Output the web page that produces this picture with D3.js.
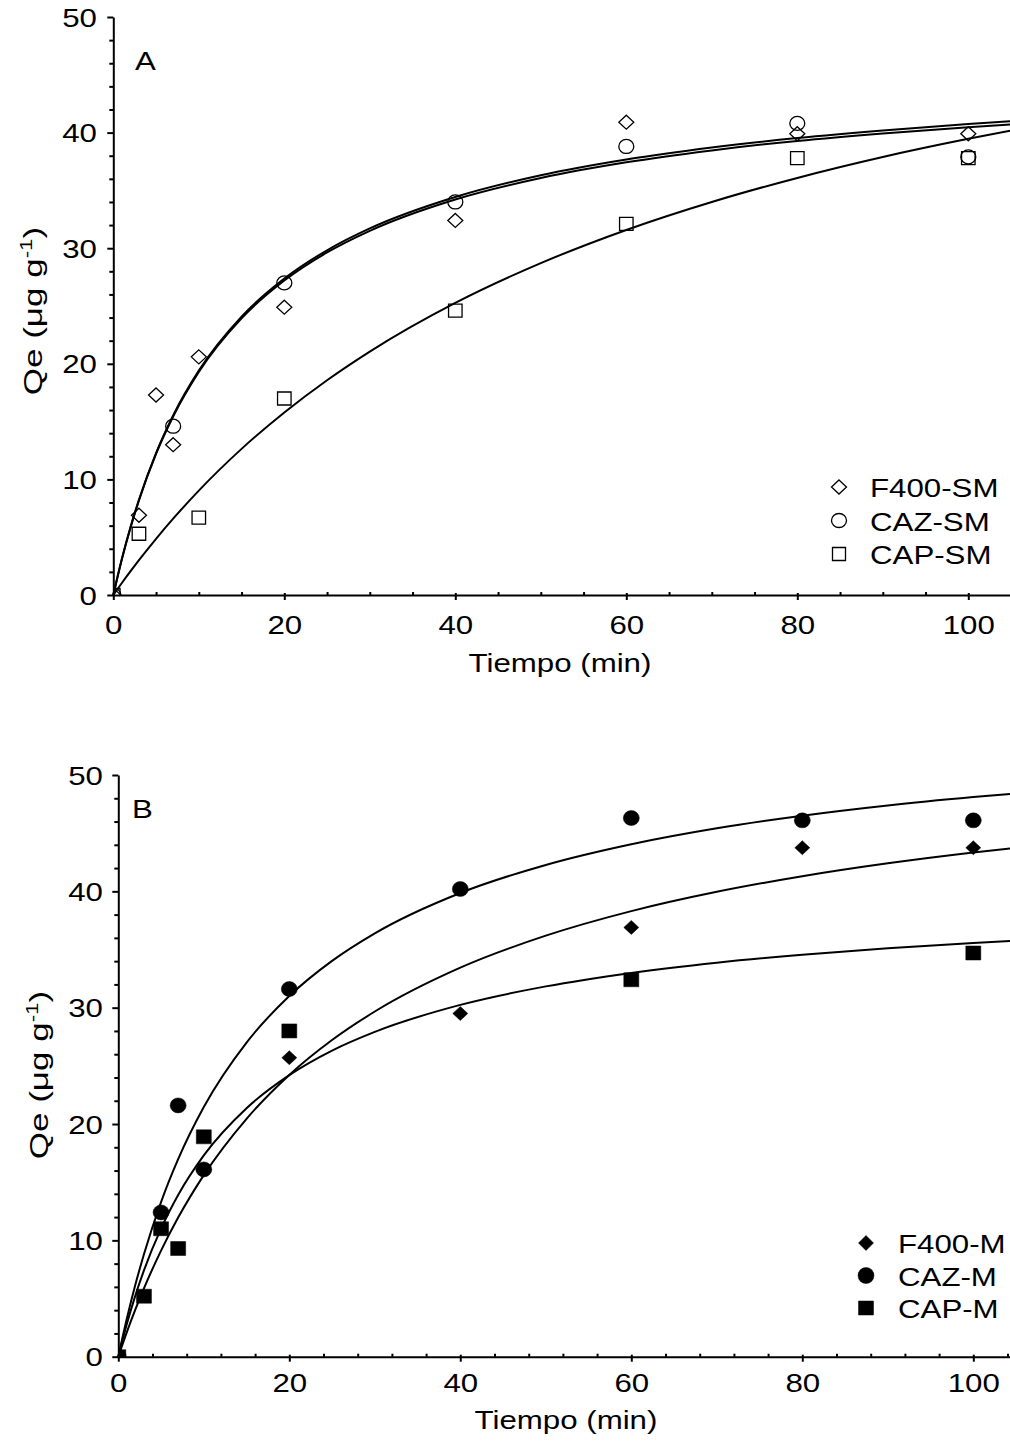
<!DOCTYPE html>
<html><head><meta charset="utf-8">
<script src="https://cdn.jsdelivr.net/npm/d3@7"></script>
<style>body{margin:0;background:#fff} svg{display:block}</style>
</head><body>
<svg id="chart" width="1010" height="1447"></svg>
<script>
// ---------- DATA ----------
// Panel A: sin modificar (SM)
const tiempoF400SM = [0, 3, 5, 7, 10, 20, 40, 60, 80, 100];
const qeF400SM     = [0, 6.9, 17.3, 13.0, 20.6, 24.9, 32.4, 40.9, 39.9, 39.9];
const tiempoCAZSM  = [0, 7, 20, 40, 60, 80, 100];
const qeCAZSM      = [0, 14.6, 27.0, 34.0, 38.8, 40.8, 37.9];
const tiempoCAPSM  = [0, 3, 10, 20, 40, 60, 80, 100];
const qeCAPSM      = [0, 5.3, 6.7, 17.0, 24.6, 32.1, 37.8, 37.8];

// Panel B: modificados (M)
const tiempoF400M  = [0, 10, 20, 40, 60, 80, 100];
const qeF400M      = [0, 16.1, 25.7, 29.5, 36.9, 43.75, 43.75];
const tiempoCAZM   = [0, 5, 7, 10, 20, 40, 60, 80, 100];
const qeCAZM       = [0, 12.4, 21.6, 16.1, 31.6, 40.2, 46.3, 46.1, 46.1];
const tiempoCAPM   = [0, 3, 5, 7, 10, 20, 60, 100];
const qeCAPM       = [0, 5.2, 11.0, 9.3, 18.9, 28.0, 32.4, 34.7];

// Fitted curves
const fitTiempo   = [0, 1, 2, 3, 5, 7, 10, 15, 20, 25, 30, 40, 50, 60, 70, 80, 90, 100, 105];
const fitF400SM   = [0, 3.11, 5.84, 8.24, 12.28, 15.54, 19.41, 24.08, 27.37, 29.82, 31.71, 34.43, 36.31, 37.67, 38.71, 39.53, 40.19, 40.74, 40.98];
const fitCAZSM    = [0, 3.09, 5.80, 8.18, 12.20, 15.44, 19.29, 23.93, 27.20, 29.63, 31.50, 34.21, 36.07, 37.43, 38.46, 39.28, 39.93, 40.47, 40.71];
const fitCAPSM    = [0, 1.04, 2.04, 3.01, 4.86, 6.60, 9.03, 12.64, 15.79, 18.58, 21.06, 25.27, 28.71, 31.58, 34.00, 36.08, 37.89, 39.46, 40.18];
const fitCAZM     = [0, 3.28, 6.20, 8.81, 13.29, 16.98, 21.46, 27.00, 31.00, 34.02, 36.39, 39.86, 42.27, 44.05, 45.42, 46.50, 47.38, 48.10, 48.42];
const fitF400M    = [0, 2.11, 4.06, 5.87, 9.12, 11.96, 15.61, 20.45, 24.22, 27.22, 29.67, 33.44, 36.19, 38.30, 39.96, 41.30, 42.41, 43.34, 43.75];
const fitCAPM     = [0, 2.82, 5.27, 7.42, 11.01, 13.90, 17.30, 21.36, 24.20, 26.31, 27.92, 30.24, 31.83, 32.99, 33.87, 34.56, 35.11, 35.57, 35.77];

// Axis ticks
const xMajorTicks = [0, 20, 40, 60, 80, 100];
const yMajorTicks = [0, 10, 20, 30, 40, 50];
const xMinorTicksA = [5, 10, 15, 25, 30, 35, 45, 50, 55, 65, 70, 75, 85, 90, 95, 105];
const xMinorTicksB = [4, 8, 12, 16, 24, 28, 32, 36, 44, 48, 52, 56, 64, 68, 72, 76, 84, 88, 92, 96, 104];
const yMinorTicks = [2, 4, 6, 8, 12, 14, 16, 18, 22, 24, 26, 28, 32, 34, 36, 38, 42, 44, 46, 48];

const legendA = ["F400-SM", "CAZ-SM", "CAP-SM"];
const legendB = ["F400-M", "CAZ-M", "CAP-M"];

// ---------- DRAWING ----------
const FONT = "'Liberation Sans', Arial, Helvetica, sans-serif";
const SX = 1.25;   // horizontal stretch of the original text
const svg = d3.select("#chart");
svg.append("rect").attr("width", 1010).attr("height", 1447).attr("fill", "#fff");

function markerPath(type, w, h) {
  if (type === "diamond") return `M0,${-h/2}L${w/2},0L0,${h/2}L${-w/2},0Z`;
  if (type === "square") return `M${-w/2},${-h/2}h${w}v${h}h${-w}Z`;
  return `M${-w/2},0a${w/2},${h/2} 0 1,0 ${w},0a${w/2},${h/2} 0 1,0 ${-w},0Z`;
}

function stretchedText(g, x, y, str, size, anchor) {
  return g.append("text")
    .attr("transform", `translate(${x},${y}) scale(${SX},1)`)
    .attr("text-anchor", anchor || "start")
    .attr("font-family", FONT).attr("font-size", size).attr("fill", "#000")
    .text(str);
}

function drawPanel(cfg) {
  const g = svg.append("g");
  const x = d3.scaleLinear().domain([0, 105]).range([cfg.x0, cfg.x0 + 105 * cfg.xs]);
  const y = d3.scaleLinear().domain([0, 50]).range([cfg.y0, cfg.yTop]);

  const clipId = "clip" + cfg.name;
  svg.append("clipPath").attr("id", clipId).append("rect")
    .attr("x", cfg.x0).attr("y", cfg.yTop - 10)
    .attr("width", 1010 - cfg.x0).attr("height", cfg.y0 - cfg.yTop + 10);

  // fitted curves
  const line = d3.line().x((d, i) => x(fitTiempo[i])).y(d => y(d)).curve(d3.curveMonotoneX);
  cfg.curves.forEach(c => {
    g.append("path").attr("d", line(c)).attr("fill", "none")
      .attr("stroke", "#000").attr("stroke-width", 2);
  });

  // markers
  const mg = g.append("g").attr("clip-path", `url(#${clipId})`);
  cfg.series.forEach(s => {
    mg.selectAll(null).data(s.t).enter().append("path")
      .attr("transform", (d, i) => `translate(${x(d)},${y(s.q[i])})`)
      .attr("d", markerPath(s.type, s.w, s.h))
      .attr("fill", cfg.filled ? "#000" : "none")
      .attr("stroke", "#000").attr("stroke-width", cfg.filled ? 0.5 : 1.3);
  });

  // x axis
  const xa = g.append("g").attr("transform", `translate(0,${cfg.y0})`)
    .call(d3.axisBottom(x).tickValues(xMajorTicks).tickSize(5).tickSizeOuter(0));
  xa.select(".domain").attr("stroke-width", 2).attr("d", `M${cfg.x0},0.5H1012`);
  xa.selectAll(".tick line").attr("y1", -2).attr("stroke-width", 2);
  xa.selectAll(".tick text").attr("y", null).attr("dy", null)
    .attr("transform", `translate(0,${cfg.xLabelDy}) scale(${SX},1)`)
    .attr("font-family", FONT).attr("font-size", 25).attr("fill", "#000");
  const xm = g.append("g").attr("transform", `translate(0,${cfg.y0})`)
    .call(d3.axisBottom(x).tickValues(cfg.xMinor).tickSize(-3).tickSizeOuter(0).tickFormat(""));
  xm.select(".domain").remove();
  xm.selectAll(".tick line").attr("stroke-width", 2);

  // y axis
  const ya = g.append("g").attr("transform", `translate(${cfg.x0},0)`)
    .call(d3.axisLeft(y).tickValues(yMajorTicks).tickSize(6).tickSizeOuter(0));
  ya.select(".domain").attr("stroke-width", 2);
  ya.selectAll(".tick line").attr("stroke-width", 2);
  ya.selectAll(".tick text").attr("x", null).attr("dy", "0.36em")
    .attr("transform", `translate(${cfg.yLabelRight - cfg.x0},0) scale(${SX},1)`)
    .attr("font-family", FONT).attr("font-size", 25).attr("fill", "#000");
  const ym = g.append("g").attr("transform", `translate(${cfg.x0},0)`)
    .call(d3.axisLeft(y).tickValues(yMinorTicks).tickSize(4).tickSizeOuter(0).tickFormat(""));
  ym.select(".domain").remove();
  ym.selectAll(".tick line").attr("stroke-width", 2);

  // axis titles
  stretchedText(g, cfg.xTitleX, cfg.xTitleY, "Tiempo (min)", 25, "middle");
  const yt = g.append("text")
    .attr("transform", `translate(${cfg.yTitleX},${cfg.yTitleY}) rotate(-90) scale(1.4,1)`)
    .attr("text-anchor", "middle").attr("font-family", FONT).attr("font-size", 25).attr("fill", "#000");
  yt.append("tspan").text("Qe (\u03bcg g");
  yt.append("tspan").attr("dy", -10).attr("font-size", 16).text("-1");
  yt.append("tspan").attr("dy", 10).text(")");

  // panel letter
  stretchedText(g, cfg.letterX, cfg.letterY, cfg.name, 25, "start");

  // legend
  cfg.legend.forEach((lab, i) => {
    const s = cfg.legendMarkers[i];
    g.append("path")
      .attr("transform", `translate(${cfg.legX},${cfg.legY + i * cfg.legDy})`)
      .attr("d", markerPath(s.type, s.w, s.h))
      .attr("fill", cfg.filled ? "#000" : "none")
      .attr("stroke", "#000").attr("stroke-width", cfg.filled ? 0.5 : 1.3);
    stretchedText(g, cfg.legTextX, cfg.legY + i * cfg.legDy + 10, lab, 25, "start");
  });
}

drawPanel({
  name: "A", x0: 113.3, xs: 8.55, y0: 595, yTop: 17, filled: false,
  xMinor: xMinorTicksA, xLabelDy: 39, yLabelRight: 97,
  xTitleX: 560, xTitleY: 672, yTitleX: 42, yTitleY: 311,
  letterX: 135, letterY: 70,
  curves: [fitF400SM, fitCAZSM, fitCAPSM],
  series: [
    {t: tiempoCAPSM, q: qeCAPSM, type: "square", w: 13.5, h: 13},
    {t: tiempoCAZSM, q: qeCAZSM, type: "circle", w: 15, h: 14},
    {t: tiempoF400SM, q: qeF400SM, type: "diamond", w: 15, h: 14}
  ],
  legend: legendA,
  legendMarkers: [{type: "diamond", w: 15, h: 14}, {type: "circle", w: 15, h: 14}, {type: "square", w: 13, h: 13}],
  legX: 839, legY: 487, legDy: 33.5, legTextX: 870
});

drawPanel({
  name: "B", x0: 118.3, xs: 8.55, y0: 1356.7, yTop: 775, filled: true,
  xMinor: xMinorTicksB, xLabelDy: 35, yLabelRight: 103,
  xTitleX: 566, xTitleY: 1429, yTitleX: 48, yTitleY: 1075,
  letterX: 132, letterY: 818,
  curves: [fitCAZM, fitF400M, fitCAPM],
  series: [
    {t: tiempoF400M, q: qeF400M, type: "diamond", w: 15, h: 14},
    {t: tiempoCAZM, q: qeCAZM, type: "circle", w: 16, h: 15},
    {t: tiempoCAPM, q: qeCAPM, type: "square", w: 15, h: 14}
  ],
  legend: legendB,
  legendMarkers: [{type: "diamond", w: 15, h: 15}, {type: "circle", w: 16, h: 16}, {type: "square", w: 15, h: 14}],
  legX: 866, legY: 1243, legDy: 32.5, legTextX: 898
});
</script>
</body></html>
